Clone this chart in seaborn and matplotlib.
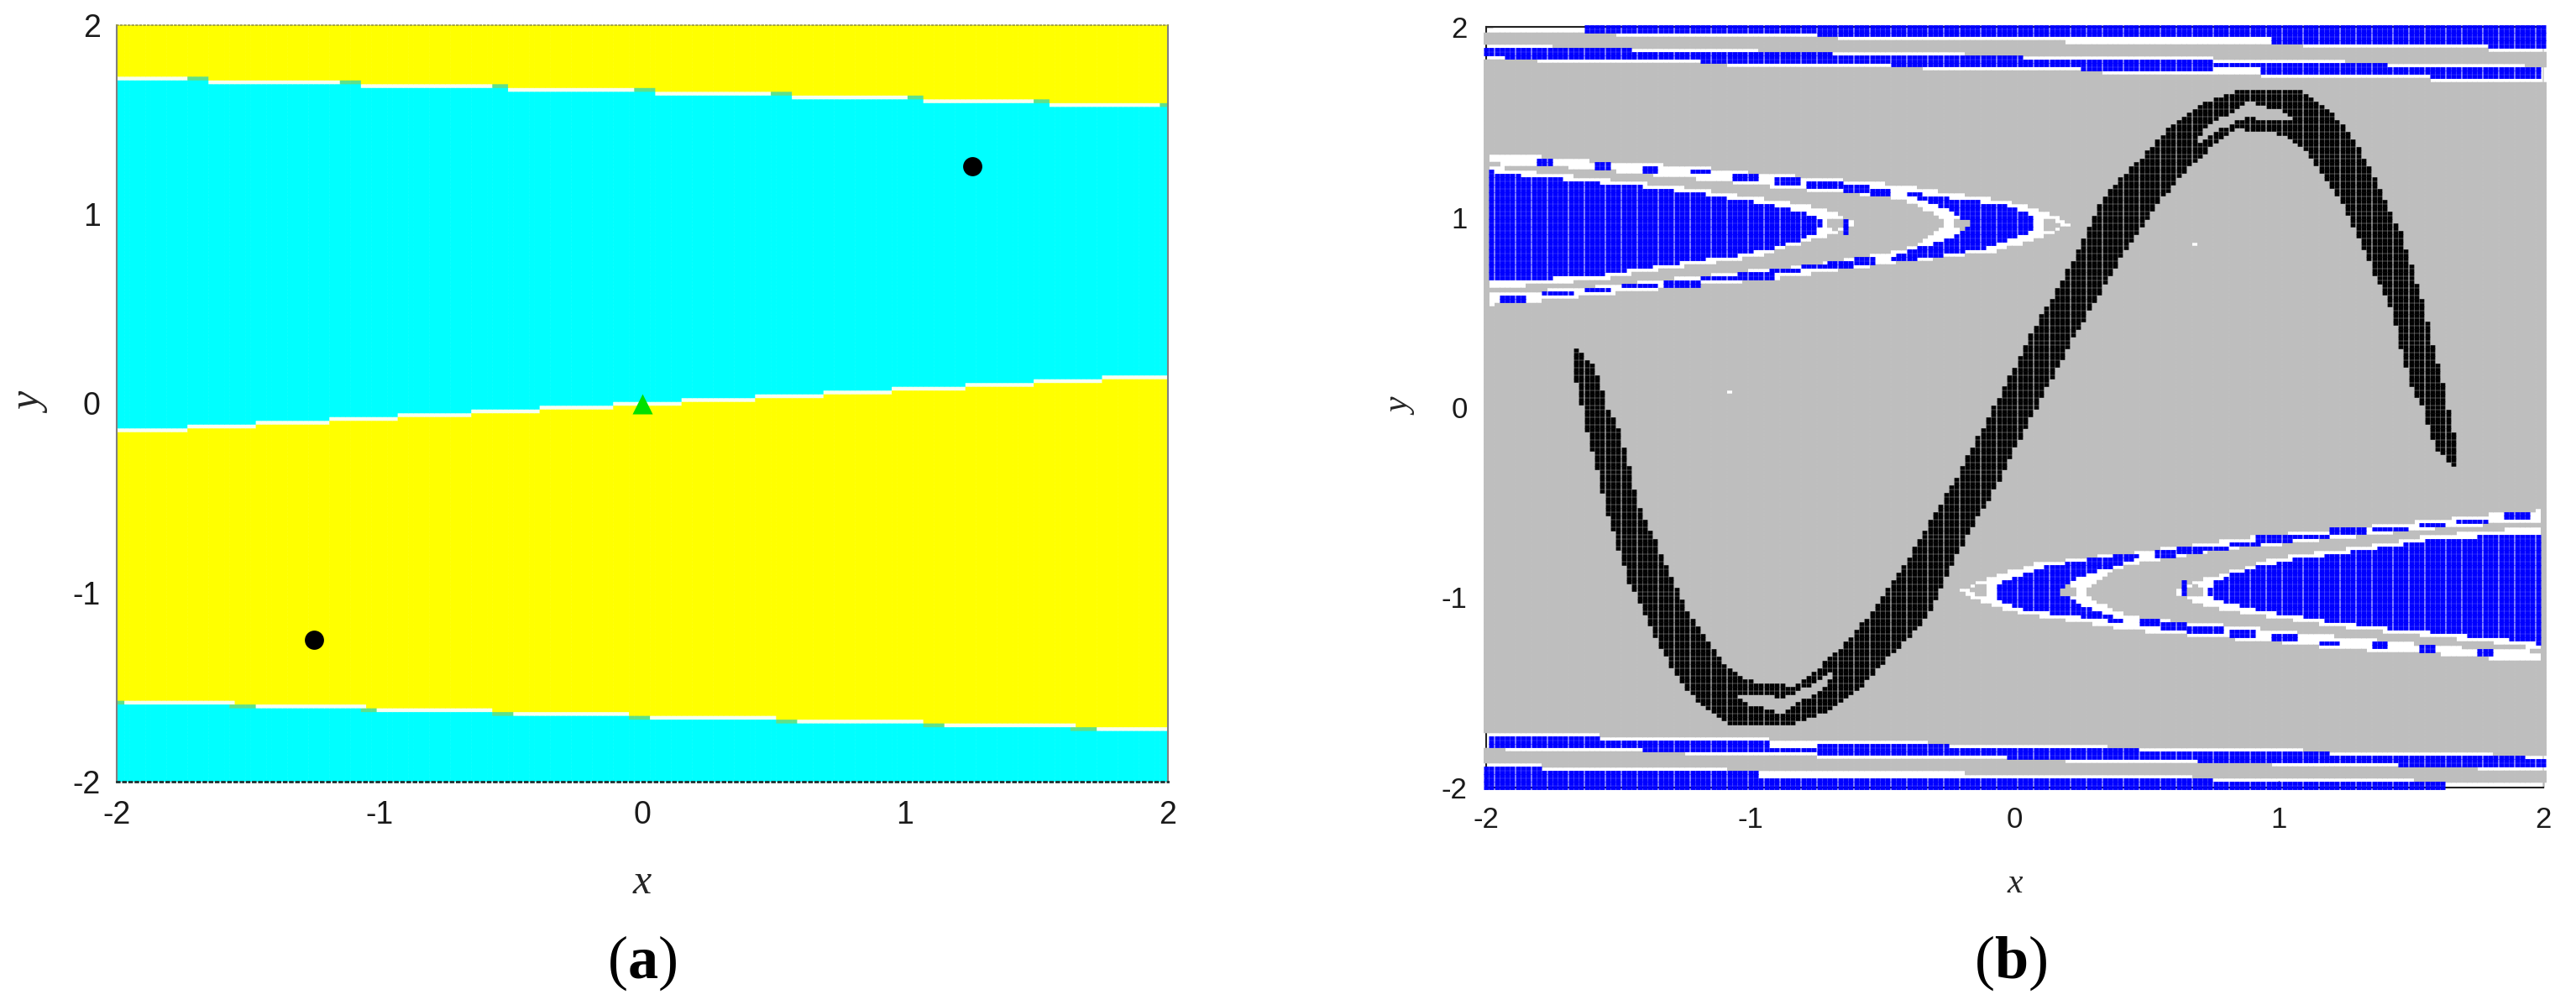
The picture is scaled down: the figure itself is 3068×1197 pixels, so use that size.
import numpy as np
import pandas as pd
import matplotlib
matplotlib.use("Agg")
import matplotlib.pyplot as plt
import seaborn as sns
from matplotlib.path import Path

# ==========================================
# PANEL (a) : BASIN BOUNDARIES (step tables)
# ==========================================

top_start = [-2.0, -1.64, -1.06, -0.50, 0.05, 0.57, 1.07, 1.56]
top_end = [-1.73, -1.16, -0.58, -0.03, 0.48, 1.00, 1.48, 1.97]
top_row = [1.72, 1.70, 1.68, 1.66, 1.64, 1.62, 1.60, 1.58]

mid_start = [-2.0, -1.72, -1.46, -1.18, -0.92, -0.645, -0.385, -0.11, 0.15, 0.43, 0.69, 0.945, 1.23, 1.485, 1.745]
mid_row = [-0.14, -0.12, -0.10, -0.08, -0.06, -0.04, -0.02, 0.0, 0.02, 0.04, 0.06, 0.08, 0.10, 0.12, 0.14]

low_start = [-2.0, -1.56, -1.06, -0.57, -0.05, 0.505, 1.07, 1.64]
low_begin = [-1.96, -1.476, -1.0, -0.49, 0.03, 0.59, 1.16, 1.74]
low_row = [-1.58, -1.60, -1.62, -1.64, -1.66, -1.68, -1.70, -1.72]

attractor_x = [1.256, -1.25]
attractor_y = [1.253, -1.25]
saddle_x = [0.0]
saddle_y = [0.0]

# ==========================================
# PANEL (b) : ATTRACTOR OUTLINE (half, other half is point mirrored)
# ==========================================

band_low_x = [-1.679, -1.658, -1.618, -1.582, -1.539, -1.503, -1.460, -1.418, -1.339, -1.284,
              -1.199, -1.065, -0.871, -0.725, -0.579, -0.469, -0.330, -0.238, -0.068, 0.044]
band_low_y = [0.235, 0.110, -0.133, -0.317, -0.567, -0.743, -0.920, -1.038, -1.273, -1.406,
              -1.553, -1.678, -1.678, -1.612, -1.465, -1.303, -1.097, -0.817, -0.405, -0.095]
band_up_x = [-1.673, -1.588, -1.539, -1.503, -1.460, -1.418, -1.363, -1.308, -1.235, -1.175,
             -1.102, -1.016, -0.834, -0.713, -0.646, -0.530, -0.415, -0.220, -0.044]
band_up_y = [0.331, 0.213, -0.008, -0.096, -0.317, -0.545, -0.685, -0.876, -1.082, -1.200,
             -1.339, -1.435, -1.465, -1.332, -1.244, -1.053, -0.817, -0.361, 0.095]
sliver_x = [-1.114, -1.065, -0.871, -0.810, -0.737, -0.664, -0.725, -0.798, -0.883, -1.004]
sliver_y = [-1.472, -1.509, -1.523, -1.487, -1.428, -1.369, -1.487, -1.538, -1.612, -1.560]

# ==========================================
# PANEL (b) : PARABOLA REGIONS
# ==========================================

outer_white_x = [-2.0, -1.907, -1.638, -1.439, -1.227, -1.042, -0.688, -0.418, -0.220, -0.035, 0.121, 0.220,
                 0.121, -0.078, -0.319, -0.503, -0.702, -0.915, -1.184, -1.482, -1.794, -2.0]
outer_white_y = [1.334, 1.332, 1.302, 1.287, 1.273, 1.243, 1.206, 1.170, 1.126, 1.089, 1.030, 0.967,
                 0.905, 0.816, 0.780, 0.750, 0.713, 0.677, 0.640, 0.603, 0.559, 0.537]
inner_gray_x = [-2.0, -1.851, -1.638, -1.212, -0.787, -0.503, -0.361, -0.262,
                -0.361, -0.503, -0.787, -1.212, -1.638, -1.922, -2.0]
inner_gray_y = [1.290, 1.265, 1.258, 1.199, 1.140, 1.111, 1.059, 0.967,
                0.861, 0.809, 0.750, 0.691, 0.633, 0.603, 0.603]
inner_white_x = [-2.0, -1.759, -1.595, -1.319, -1.099, -0.922, -0.787, -0.673, -0.595,
                 -0.673, -0.815, -0.971, -1.141, -1.354, -1.581, -1.858, -2.0]
inner_white_y = [1.273, 1.231, 1.211, 1.170, 1.133, 1.093, 1.067, 1.023, 0.967,
                 0.912, 0.861, 0.794, 0.758, 0.721, 0.669, 0.640, 0.633]
big_blue_x = [-2.0, -1.936, -1.759, -1.595, -1.461, -1.319, -1.198, -1.099, -1.0, -0.922, -0.865, -0.801, -0.759, -0.723,
              -0.759, -0.808, -0.900, -0.971, -1.042, -1.141, -1.241, -1.354, -1.468, -1.581, -1.709, -1.858, -2.0]
big_blue_y = [1.251, 1.229, 1.206, 1.184, 1.167, 1.143, 1.126, 1.103, 1.084, 1.067, 1.045, 1.023, 1.0, 0.967,
              0.920, 0.883, 0.846, 0.824, 0.802, 0.787, 0.765, 0.743, 0.721, 0.691, 0.684, 0.665, 0.662]
crescent_x = [-0.461, -0.290, -0.191, -0.049, 0.050, 0.085, 0.050, -0.092, -0.248, -0.432, -0.503,
              -0.432, -0.248, -0.170, -0.248, -0.390]
crescent_y = [1.140, 1.111, 1.089, 1.067, 1.015, 0.967, 0.920, 0.846, 0.805, 0.765, 0.765,
              0.809, 0.890, 0.967, 1.045, 1.108]

dash_x0 = [-1.801, -1.581, -1.400, -1.220, -1.063, -0.900, -0.780, -0.659, -0.546,
           -1.957, -1.797, -1.621, -1.482, -1.323, -1.181, -1.042, -0.922, -0.801, -0.702, -0.602]
dash_x1 = [-1.759, -1.539, -1.343, -1.144, -0.964, -0.808, -0.652, -0.546, -0.468,
           -1.858, -1.680, -1.522, -1.344, -1.184, -1.045, -0.907, -0.801, -0.702, -0.602, -0.525]
dash_y = [1.295, 1.273, 1.254, 1.236, 1.214, 1.195, 1.174, 1.155, 1.136,
          0.574, 0.596, 0.616, 0.637, 0.655, 0.677, 0.696, 0.716, 0.736, 0.750, 0.765]

oval_x = [-0.680, -0.202, 0.132]
oval_y = [0.967, 0.967, 0.967]
bar_x = -0.64
bar_y = [0.920, 0.993]

# ==========================================
# PANEL (b) : LANES NEAR THE TOP EDGE (bottom lanes are point mirrored)
# ==========================================

lane1_blue_start = [-1.624, -0.744, 0.129, 0.964, 1.781]
lane1_blue_floor = [1.965, 1.955, 1.945, 1.915, 1.90]
lane1_white_start = [-2.0, -1.50, -0.66, 0.20, 1.10, 1.80]
lane1_white_floor = [1.967, 1.95, 1.927, 1.907, 1.894, 1.87]

lane2_x0 = [-2.0, -1.936, -1.446, -1.184, -0.688, -0.461, 0.029, 0.249, 0.745, 0.923, 1.42, 1.58]
lane2_x1 = [-1.936, -1.446, -1.184, -0.688, -0.461, 0.029, 0.249, 0.745, 0.923, 1.42, 1.58, 2.0]
lane2_blue_top = [1.879, 1.879, 1.861, 1.858, 1.839, 1.839, 1.82, 1.82, 1.803, 1.80, 1.784, 1.78]
lane2_blue_bot = [1.861, 1.839, 1.839, 1.82, 1.82, 1.795, 1.795, 1.776, 1.788, 1.759, 1.762, 1.744]
lane2_white_top_start = [-2.0, -1.744, -0.964, -0.191, 0.745, 1.26, 1.927]
lane2_white_top = [1.913, 1.891, 1.869, 1.847, 1.832, 1.81, 1.79]
lane2_white_bot_start = [-2.0, -1.815, -1.099, -0.34, 0.322, 0.923, 1.58]
lane2_white_bot = [1.829, 1.814, 1.79, 1.773, 1.753, 1.74, 1.72]

stray_x = [-1.08, 0.68]
stray_y = [0.08, 0.86]

ticks = [-2, -1, 0, 1, 2]
tick_labels = ["-2", "-1", "0", "1", "2"]

# ==========================================
# HELPERS
# ==========================================


def step(x, starts, values):
    idx = np.searchsorted(starts, x + 1e-9, side="right") - 1
    return np.array(values)[np.clip(idx, 0, len(values) - 1)]


def inside(xs, ys, X, Y):
    return Path(np.column_stack([xs, ys])).contains_points(np.column_stack([X, Y]))


def half_kinds(X, Y):
    # 0 gray, 1 white, 2 blue, 3 black
    kind = np.zeros(X.size, dtype=int)
    kind[inside(outer_white_x, outer_white_y, X, Y)] = 1
    kind[inside(inner_gray_x, inner_gray_y, X, Y)] = 0
    kind[inside(inner_white_x, inner_white_y, X, Y)] = 1
    kind[inside(big_blue_x, big_blue_y, X, Y)] = 2
    kind[inside(crescent_x, crescent_y, X, Y)] = 2
    for x0, x1, yy in zip(dash_x0, dash_x1, dash_y):
        kind[(X >= x0) & (X <= x1) & (np.abs(Y - yy) <= 0.016)] = 2
    for ox, oy in zip(oval_x, oval_y):
        kind[((X - ox) / 0.03) ** 2 + ((Y - oy) / 0.03) ** 2 <= 1] = 0
    kind[(np.abs(X - bar_x) < 0.005) & (Y >= bar_y[0]) & (Y <= bar_y[1])] = 2

    # lanes
    kind[Y >= step(X, lane1_white_start, lane1_white_floor)] = 1
    kind[(X >= lane1_blue_start[0]) & (Y >= step(X, lane1_blue_start, lane1_blue_floor) - 0.004)] = 2
    kind[(Y <= step(X, lane2_white_top_start, lane2_white_top)) & (Y >= step(X, lane2_white_bot_start, lane2_white_bot))] = 1
    for x0, x1, yt, yb in zip(lane2_x0, lane2_x1, lane2_blue_top, lane2_blue_bot):
        kind[(X >= x0) & (X < x1) & (Y <= yt + 0.006) & (Y >= yb - 0.006)] = 2

    # attractor
    xs = list(band_low_x) + list(band_up_x)[::-1]
    ys = list(band_low_y) + list(band_up_y)[::-1]
    kind[inside(xs, ys, X, Y)] = 3
    kind[inside(sliver_x, sliver_y, X, Y)] = 0
    return kind


def rect_marker(ratio):
    return [(-1, -ratio), (1, -ratio), (1, ratio), (-1, ratio), (-1, -ratio)]


# ==========================================
# BUILD THE GRIDS
# ==========================================

grid = np.round(np.linspace(-2, 2, 201), 2)
X, Y = np.meshgrid(grid, grid)
X = X.ravel()
Y = Y.ravel()

# panel a
top_level = step(X, top_start, top_row)
mid_level = step(X, mid_start, mid_row)
low_level = step(X, low_start, low_row)

color_a = np.full(X.size, "yellow", dtype=object)
color_a[(Y < top_level) & (Y > mid_level)] = "cyan"
color_a[Y < low_level] = "cyan"
color_a[np.isclose(Y, mid_level)] = "white"
color_a[np.isclose(Y, top_level)] = "green"
color_a[np.isclose(Y, low_level)] = "green"
for x0, x1, row in zip(top_start, top_end, top_row):
    color_a[(X >= x0) & (X <= x1) & np.isclose(Y, row)] = "white"
for x0, x1, row in zip(low_begin, low_start[1:] + [2.0], low_row):
    color_a[(X >= x0) & (X <= x1) & np.isclose(Y, row)] = "white"

cells_a = pd.DataFrame({"x": X, "y": Y, "basin": color_a})

# panel b
kind_b = np.maximum(half_kinds(X, Y), half_kinds(-X, -Y))
cells_b = pd.DataFrame({"x": X, "y": Y, "kind": kind_b})
stray = (np.isclose(X, stray_x[0]) & np.isclose(Y, stray_y[0])) | (np.isclose(X, stray_x[1]) & np.isclose(Y, stray_y[1]))
cells_b.loc[stray, "kind"] = 1

# ==========================================
# FIGURE
# ==========================================

sns.set_theme(style="white")
plt.rcParams["font.family"] = ["Liberation Sans", "DejaVu Sans"]
plt.rcParams["axes.unicode_minus"] = False
plt.rcParams["mathtext.fontset"] = "custom"
plt.rcParams["mathtext.rm"] = "Liberation Serif"
plt.rcParams["mathtext.bf"] = "Liberation Serif:bold"
plt.rcParams["mathtext.default"] = "regular"

W, H = 3068, 1197
fig = plt.figure(figsize=(W / 100, H / 100), dpi=100, facecolor="white")
ax_a = fig.add_axes([139 / W, 1 - 931 / H, (1391 - 139) / W, (931 - 30) / H])
ax_b = fig.add_axes([1770 / W, 1 - 938 / H, (3029 - 1770) / W, (938 - 32) / H])

# ==========================================
# PANEL (a)
# ==========================================

sns.scatterplot(
    data=cells_a, x="x", y="y", hue="basin",
    palette={"yellow": "#ffff00", "cyan": "#00ffff", "white": "#f8fff0", "green": "#5fe08a"},
    marker=rect_marker(0.8), s=24, linewidth=0, legend=False, ax=ax_a, zorder=1, snap=False
)
sns.scatterplot(x=attractor_x, y=attractor_y, color="black", marker="o", s=270, linewidth=0, ax=ax_a, zorder=4)
sns.scatterplot(x=saddle_x, y=saddle_y, color="#00e000", marker="^", s=300, linewidth=0, ax=ax_a, zorder=4)

ax_a.set_xlim(-2, 2)
ax_a.set_ylim(-2, 2)
ax_a.set_xticks(ticks, tick_labels)
ax_a.set_yticks(ticks, tick_labels)
ax_a.tick_params(length=0, labelsize=27, pad=14, colors="#1a1a1a")
ax_a.tick_params(axis="x", pad=16)
for side in ["left", "right"]:
    ax_a.spines[side].set_color("#808080")
    ax_a.spines[side].set_linewidth(1.5)
ax_a.spines["top"].set_color("#9a9a40")
ax_a.spines["top"].set_linestyle(":")
ax_a.spines["bottom"].set_color("#203030")
ax_a.spines["bottom"].set_linestyle(":")
ax_a.spines["bottom"].set_linewidth(2)
ax_a.set_xlabel("x", family="Liberation Serif", style="italic", fontsize=36, va="center")
ax_a.set_ylabel("y", family="Liberation Serif", style="italic", fontsize=36, va="center")
ax_a.xaxis.set_label_coords(0.5, -0.134)
ax_a.yaxis.set_label_coords(-0.081, 0.5)

# ==========================================
# PANEL (b)
# ==========================================

base_gray = cells_b[(cells_b["kind"] == 0) | (cells_b["kind"] == 3)]
blue = cells_b[cells_b["kind"] == 2]
black = cells_b[cells_b["kind"] == 3]

sns.scatterplot(data=base_gray, x="x", y="y", color="#bebebe", marker=rect_marker(0.8), s=25,
                linewidth=0, ax=ax_b, zorder=3, clip_on=False, snap=False)
sns.scatterplot(data=blue, x="x", y="y", color="#0000ff", marker=rect_marker(0.8), s=19,
                linewidth=0, ax=ax_b, zorder=4, clip_on=False, snap=False)
sns.scatterplot(data=black, x="x", y="y", color="#000000", marker=rect_marker(0.8), s=17,
                linewidth=0, ax=ax_b, zorder=4, snap=False)

ax_b.set_xlim(-2, 2)
ax_b.set_ylim(-2, 2)
ax_b.set_xticks(ticks, tick_labels)
ax_b.set_yticks(ticks, tick_labels)
ax_b.tick_params(direction="in", length=6, width=1, color="black", labelsize=25, pad=16, labelcolor="#1a1a1a",
                 bottom=True, left=True)
for side in ["left", "bottom", "top"]:
    ax_b.spines[side].set_color("#222222")
    ax_b.spines[side].set_linewidth(1.5)
ax_b.spines["right"].set_color("#d0d0d0")
ax_b.set_xlabel("x", family="Liberation Serif", style="italic", fontsize=30, va="center")
ax_b.set_ylabel("y", family="Liberation Serif", style="italic", fontsize=30, va="center")
ax_b.xaxis.set_label_coords(0.5, -0.127)
ax_b.yaxis.set_label_coords(-0.08, 0.5)

# ==========================================
# PANEL LETTERS
# ==========================================

fig.text(765 / W, 1 - 1147 / H, r"($\mathbf{a}$)", family="Liberation Serif", fontsize=52, ha="center", va="center", color="black")
fig.text(2395 / W, 1 - 1147 / H, r"($\mathbf{b}$)", family="Liberation Serif", fontsize=52, ha="center", va="center", color="black")

fig.savefig("out.png", dpi=100, facecolor="white")
